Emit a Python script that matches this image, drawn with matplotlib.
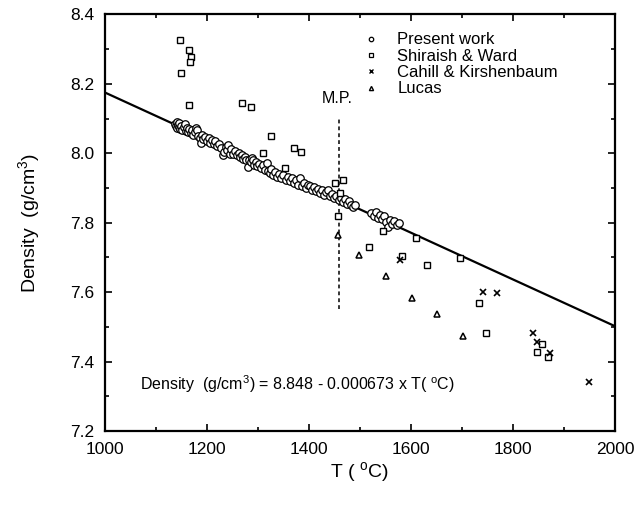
import matplotlib
matplotlib.use("Agg")
import matplotlib.pyplot as plt
from matplotlib.lines import Line2D
from matplotlib.ticker import MultipleLocator

plt.rcParams['font.family'] = ['Liberation Sans', 'DejaVu Sans']
plt.rcParams['mathtext.fontset'] = 'custom'
plt.rcParams['mathtext.rm'] = 'Liberation Sans'

# present work (circles)
present_T = [1138, 1140, 1141, 1142, 1143, 1145, 1146, 1148, 1150, 1152, 1154, 1156, 1158, 1160,
             1163, 1165, 1168, 1170, 1173, 1176, 1178, 1180, 1183, 1186, 1188, 1190, 1193, 1196,
             1200, 1203, 1206, 1210, 1213, 1216, 1220, 1224, 1228, 1231, 1234, 1237, 1240, 1242,
             1245, 1248, 1252, 1255, 1258, 1262, 1265, 1268, 1271, 1274, 1277, 1280, 1283, 1286,
             1289, 1290, 1293, 1296, 1299, 1302, 1305, 1309, 1313, 1317, 1320, 1323, 1326, 1330,
             1334, 1338, 1342, 1346, 1350, 1354, 1358, 1362, 1366, 1370, 1374, 1378, 1382, 1386,
             1390, 1394, 1398, 1402, 1406, 1410, 1414, 1418, 1422, 1426, 1430, 1434, 1438, 1442,
             1446, 1450, 1454, 1458, 1462, 1466, 1470, 1474, 1478, 1482, 1486, 1490, 1522, 1528,
             1532, 1536, 1540, 1544, 1548, 1552, 1555, 1558, 1562, 1566, 1572, 1576]
present_D = [8.085, 8.078, 8.090, 8.072, 8.082, 8.076, 8.088, 8.070, 8.080, 8.068, 8.075, 8.083, 8.064, 8.072,
             8.062, 8.070, 8.058, 8.066, 8.052, 8.060, 8.073, 8.068, 8.050, 8.045, 8.031, 8.054, 8.040, 8.048,
             8.036, 8.044, 8.030, 8.038, 8.026, 8.034, 8.020, 8.028, 8.014, 7.995, 8.004, 8.018, 8.010, 8.024,
             7.998, 8.012, 7.998, 8.006, 7.994, 8.000, 7.988, 7.995, 7.984, 7.990, 7.980, 7.960, 7.982, 7.976,
             7.985, 7.980, 7.966, 7.975, 7.962, 7.970, 7.958, 7.966, 7.952, 7.973, 7.950, 7.942, 7.955, 7.938,
             7.946, 7.932, 7.940, 7.928, 7.936, 7.924, 7.932, 7.920, 7.928, 7.915, 7.922, 7.910, 7.928, 7.906,
             7.914, 7.900, 7.908, 7.906, 7.895, 7.902, 7.890, 7.898, 7.885, 7.893, 7.880, 7.888, 7.895, 7.876,
             7.884, 7.870, 7.878, 7.865, 7.872, 7.860, 7.868, 7.855, 7.862, 7.850, 7.846, 7.852, 7.828, 7.820,
             7.830, 7.815, 7.822, 7.810, 7.818, 7.803, 7.789, 7.808, 7.796, 7.805, 7.792, 7.800]

# Shiraish & Ward (squares)
shiraish_T = [1147, 1165, 1168, 1167, 1149, 1165, 1268, 1286, 1325, 1310, 1371, 1384, 1353,
              1451, 1467, 1461, 1457, 1546, 1610, 1517, 1696, 1582, 1631, 1733, 1748, 1857,
              1848, 1868]
shiraish_D = [8.327, 8.298, 8.276, 8.262, 8.232, 8.139, 8.144, 8.134, 8.051, 8.002, 8.016, 8.003, 7.958,
              7.914, 7.923, 7.886, 7.820, 7.777, 7.755, 7.731, 7.697, 7.705, 7.677, 7.569, 7.483, 7.452,
              7.428, 7.412]

# Cahill & Kirshenbaum (crosses)
cahill_T = [1578, 1741, 1769, 1840, 1848, 1873, 1949]
cahill_D = [7.693, 7.599, 7.597, 7.483, 7.457, 7.424, 7.340]

# Lucas (triangles)
lucas_T = [1457, 1498, 1551, 1603, 1652, 1703]
lucas_D = [7.765, 7.707, 7.647, 7.582, 7.536, 7.474]

# fitted line: density = a - b*T
fit_a = 8.848
fit_b = 0.000673
fit_T = [1000, 2000]
melting_point = 1458

fig = plt.figure(figsize=(6.39, 5.08), dpi=100)
ax = fig.add_axes([0.1643, 0.1516, 0.798, 0.82])

ax.plot(fit_T, [fit_a - fit_b * t for t in fit_T], color='black', lw=1.6, zorder=2)
ax.plot([melting_point, melting_point], [7.55, 8.105], color='black', lw=1.1,
        linestyle=(0, (2.5, 2)), zorder=1)
ax.text(melting_point - 3, 8.135, 'M.P.', ha='center', va='bottom', fontsize=11.5)

ax.plot(present_T, present_D, 'o', ms=5.4, mfc='white', mec='black', mew=0.9, zorder=3)
ax.plot(shiraish_T, shiraish_D, 's', ms=4.8, mfc='white', mec='black', mew=1.0, zorder=4)
ax.plot(cahill_T, cahill_D, 'x', ms=5, color='black', mew=1.2, zorder=4)
ax.plot(lucas_T, lucas_D, '^', ms=4.3, mfc='white', mec='black', mew=1.1, zorder=4)

handles = [Line2D([], [], marker='o', ls='', ms=3.2, mfc='white', mec='black', mew=0.9),
           Line2D([], [], marker='s', ls='', ms=3.0, mfc='white', mec='black', mew=0.9),
           Line2D([], [], marker='x', ls='', ms=3.4, color='black', mew=1.0),
           Line2D([], [], marker='^', ls='', ms=3.0, mfc='white', mec='black', mew=1.0)]
labels = ['Present work', 'Shiraish & Ward', 'Cahill & Kirshenbaum', 'Lucas']
ax.legend(handles, labels, loc='upper left', bbox_to_anchor=(0.508, 0.957), frameon=False,
          fontsize=12, handlelength=0.8, handletextpad=1.2, labelspacing=0.08,
          borderpad=0, borderaxespad=0)

ax.text(1068, 7.335, 'Density  (g/cm$^3$) = 8.848 - 0.000673 x T( $^{\\mathrm{o}}$C)',
        fontsize=11.5, ha='left', va='center')

ax.set_xlim(1000, 2000)
ax.set_ylim(7.2, 8.4)
ax.xaxis.set_major_locator(MultipleLocator(200))
ax.xaxis.set_minor_locator(MultipleLocator(100))
ax.yaxis.set_major_locator(MultipleLocator(0.2))
ax.yaxis.set_minor_locator(MultipleLocator(0.1))
ax.yaxis.set_major_formatter(matplotlib.ticker.FormatStrFormatter('%.1f'))
ax.tick_params(which='both', direction='in', top=True, right=True, width=1.2,
               labelsize=12.5, pad=8)
ax.tick_params(which='major', length=5)
ax.tick_params(which='minor', length=3)
for s in ax.spines.values():
    s.set_linewidth(1.6)

ax.set_xlabel('T ( $^{\\mathrm{o}}$C)', fontsize=14, labelpad=2)
ax.set_ylabel('Density  (g/cm$^3$)', fontsize=14, labelpad=19)

fig.savefig('out.png', dpi=100)
